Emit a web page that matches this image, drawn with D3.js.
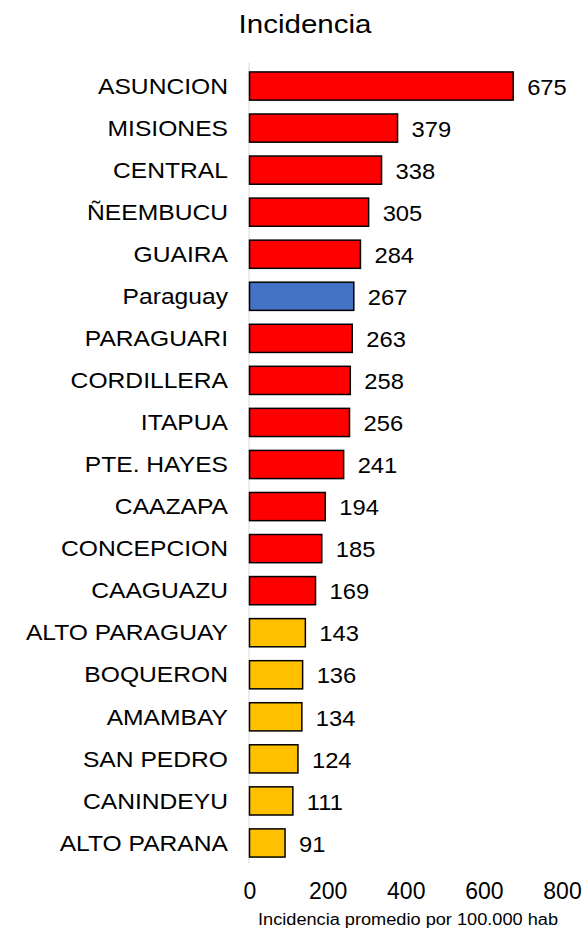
<html>
<head>
<meta charset="utf-8">
<script src="https://d3js.org/d3.v7.min.js"></script>
<style>
  body { margin: 0; background: #fff; }
  text { font-family: "Liberation Sans", Arial, sans-serif; fill: #000; }
</style>
</head>
<body>
<div id="chart"></div>
<script>
const departments = ["ASUNCION","MISIONES","CENTRAL","ÑEEMBUCU","GUAIRA","Paraguay","PARAGUARI","CORDILLERA","ITAPUA","PTE. HAYES","CAAZAPA","CONCEPCION","CAAGUAZU","ALTO PARAGUAY","BOQUERON","AMAMBAY","SAN PEDRO","CANINDEYU","ALTO PARANA"];
const incidence = [675,379,338,305,284,267,263,258,256,241,194,185,169,143,136,134,124,111,91];
const groups = ["high","high","high","high","high","country","high","high","high","high","high","high","high","low","low","low","low","low","low"];
const xTicks = [0,200,400,600,800];

const colorMap = { high: "#FF0000", country: "#4472C4", low: "#FFC000" };

const data = departments.map((d, i) => ({ name: d, value: incidence[i], group: groups[i] }));

const W = 585, H = 928;
const svg = d3.select("#chart").append("svg").attr("width", W).attr("height", H);

const x = d3.scaleLinear().domain([0, 800]).range([249.5, 562]);
const y = d3.scaleBand().domain(departments).range([65, 864]).paddingInner(0.33).paddingOuter(0.165);

// title
svg.append("text").attr("x", 305).attr("y", 33).attr("text-anchor", "middle")
  .style("font-size", "26px")
  .attr("textLength", 133).attr("lengthAdjust", "spacingAndGlyphs")
  .text("Incidencia");

// vertical axis line
svg.append("line").attr("x1", 249).attr("x2", 249).attr("y1", 63).attr("y2", 863)
  .attr("stroke", "#d9d9d9").attr("stroke-width", 1);

// bars
svg.selectAll("rect.bar").data(data).enter().append("rect")
  .attr("class", "bar")
  .attr("x", x(0))
  .attr("y", d => y(d.name))
  .attr("width", d => x(d.value) - x(0))
  .attr("height", y.bandwidth())
  .attr("fill", d => colorMap[d.group])
  .attr("stroke", "#000").attr("stroke-width", 1.5);

// category labels (slightly stretched like the original)
svg.selectAll("text.cat").data(data).enter().append("text")
  .attr("class", "cat")
  .attr("transform", d => "translate(228," + (y(d.name) + y.bandwidth() / 2) + ") scale(1.12,1)")
  .attr("dy", ".35em")
  .attr("text-anchor", "end")
  .style("font-size", "22px")
  .text(d => d.name);

// value labels
svg.selectAll("text.val").data(data).enter().append("text")
  .attr("class", "val")
  .attr("transform", d => "translate(" + (x(d.value) + 14) + "," + (y(d.name) + y.bandwidth() / 2 + 1) + ") scale(1.08,1)")
  .attr("dy", ".35em")
  .style("font-size", "22px")
  .text(d => d.value);

// x axis ticks
const axis = svg.append("g").attr("transform", "translate(0,891)")
  .call(d3.axisBottom(x).tickValues(xTicks).tickSize(0).tickPadding(0));
axis.select(".domain").remove();
axis.selectAll("text")
  .style("font-size", "23px")
  .style("font-family", "Liberation Sans, Arial, sans-serif")
  .attr("y", 0).attr("dy", ".35em");

// x axis title
svg.append("text").attr("x", 408).attr("y", 925).attr("text-anchor", "middle")
  .style("font-size", "16px")
  .attr("textLength", 300).attr("lengthAdjust", "spacingAndGlyphs")
  .text("Incidencia promedio por 100.000 hab");
</script>
</body>
</html>
